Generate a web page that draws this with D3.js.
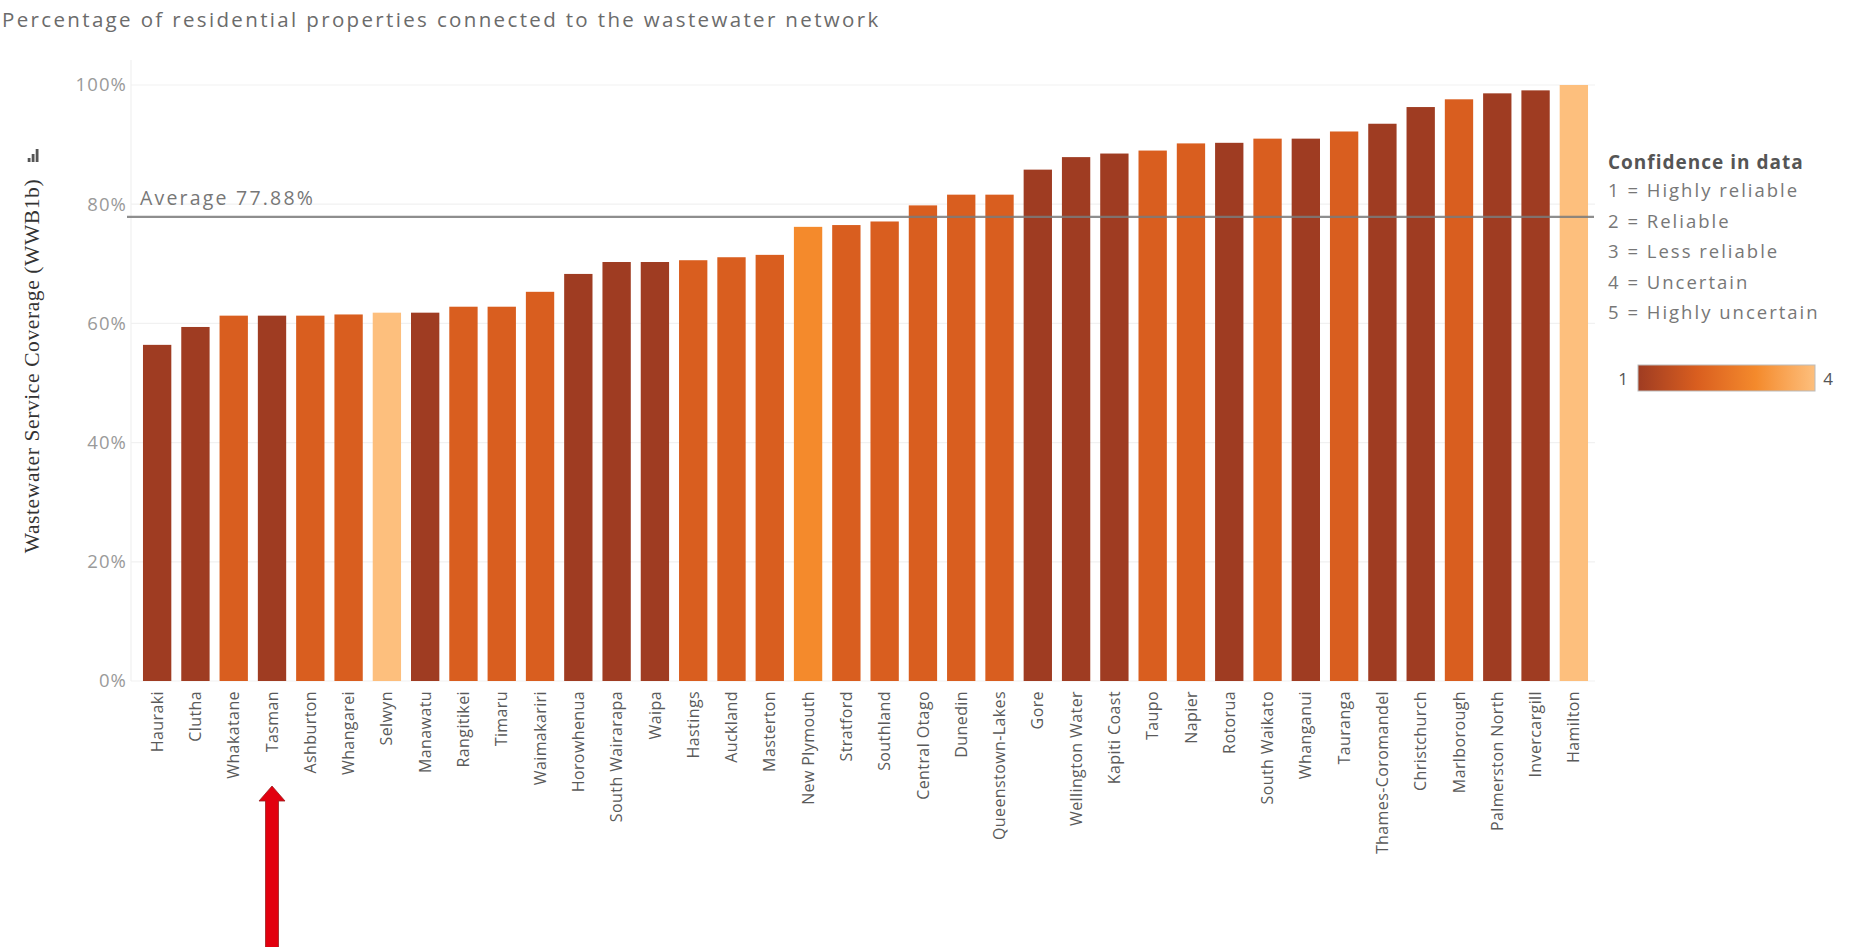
<!DOCTYPE html>
<html>
<head>
<meta charset="utf-8">
<script src="https://cdn.jsdelivr.net/npm/d3@7/dist/d3.min.js"></script>
<style>
  html, body { margin: 0; padding: 0; background: #fff; }
  svg { display: block; }
</style>
</head>
<body>
<svg id="chart" width="1851" height="947"></svg>
<script>
// ---------- DATA ----------
const categories = ["Hauraki","Clutha","Whakatane","Tasman","Ashburton","Whangarei","Selwyn","Manawatu","Rangitikei","Timaru","Waimakariri","Horowhenua","South Wairarapa","Waipa","Hastings","Auckland","Masterton","New Plymouth","Stratford","Southland","Central Otago","Dunedin","Queenstown-Lakes","Gore","Wellington Water","Kapiti Coast","Taupo","Napier","Rotorua","South Waikato","Whanganui","Tauranga","Thames-Coromandel","Christchurch","Marlborough","Palmerston North","Invercargill","Hamilton"];
const coverage = [56.4,59.4,61.3,61.3,61.3,61.5,61.8,61.8,62.8,62.8,65.3,68.3,70.3,70.3,70.6,71.1,71.5,76.2,76.5,77.1,79.8,81.6,81.6,85.8,87.9,88.5,89.0,90.2,90.3,91.0,91.0,92.2,93.5,96.3,97.6,98.6,99.1,100.0];
const confidence = [1,1,2,1,2,2,4,1,2,2,2,1,1,1,2,2,2,3,2,2,2,2,2,1,1,1,2,2,1,2,1,2,1,1,2,1,1,4];
const yTicks = [0,20,40,60,80,100];
const averageValue = 77.88;
const highlighted = "Tasman";
const titleText = "Percentage of residential properties connected to the wastewater network";
const yTitle = "Wastewater Service Coverage (WWB1b)";
const legendTitle = "Confidence in data";
const legendItems = ["1 = Highly reliable","2 = Reliable","3 = Less reliable","4 = Uncertain","5 = Highly uncertain"];
const legendScale = [1,4];

// ---------- SETUP ----------
const svg = d3.select("#chart");
const font = "'Open Sans', 'Noto Sans', sans-serif";

const x = d3.scaleBand().domain(categories).range([138, 1593]).paddingInner(0.26).paddingOuter(0.13);
const y = d3.scaleLinear().domain([0, 100]).range([681, 85]);
const color = d3.scaleLinear().domain([1, 2, 3, 4])
  .range(["#9f3c22", "#d95e1f", "#f48a2c", "#fdbf7d"]);

// Title
svg.append("text").attr("x", 2).attr("y", 27)
  .attr("font-family", font).attr("font-size", 20.5).attr("letter-spacing", 2.35)
  .attr("fill", "#6b6b6b").text(titleText);

// gridlines
svg.append("g").selectAll("line").data(yTicks).join("line")
  .attr("x1", 131).attr("x2", 1595)
  .attr("y1", d => y(d)).attr("y2", d => y(d))
  .attr("stroke", "#f1f1f1").attr("stroke-width", 1.2);

// axis line (faint)
svg.append("line").attr("x1", 131).attr("x2", 131).attr("y1", 60).attr("y2", 681)
  .attr("stroke", "#f0f0f0").attr("stroke-width", 1.2);

// Y axis
const yAxis = d3.axisLeft(y).tickValues(yTicks).tickFormat(d => d + "%").tickSize(0).tickPadding(0);
const gy = svg.append("g").attr("transform", "translate(127,0)").call(yAxis);
gy.select(".domain").remove();
gy.selectAll("text").attr("font-family", font).attr("font-size", 18.5)
  .attr("fill", "#9a9a9a").attr("letter-spacing", 1.1);

// Y title
svg.append("text")
  .attr("transform", "translate(39,366) rotate(-90)")
  .attr("text-anchor", "middle")
  .attr("font-family", "'Liberation Serif', 'DejaVu Serif', serif")
  .attr("font-size", 21.5).attr("fill", "#333").attr("letter-spacing", 0.6)
  .text(yTitle);
// small sort icon above y-title
const icon = svg.append("g").attr("transform", "translate(33,162)");
[[-4,4],[0,8],[4,13]].forEach(([dx,h]) => {
  icon.append("rect").attr("x", dx - 1.3).attr("y", -h).attr("width", 2.8).attr("height", h).attr("fill", "#555");
});

// Bars
svg.append("g").selectAll("rect").data(categories).join("rect")
  .attr("x", d => x(d))
  .attr("width", x.bandwidth())
  .attr("y", (d, i) => y(coverage[i]))
  .attr("height", (d, i) => y(0) - y(coverage[i]))
  .attr("fill", (d, i) => color(confidence[i]));

// X axis labels
const xAxis = d3.axisBottom(x).tickSize(0).tickPadding(0);
const gx = svg.append("g").attr("transform", `translate(0,${y(0)})`).call(xAxis);
gx.select(".domain").remove();
gx.selectAll("text")
  .attr("font-family", font).attr("font-size", 16).attr("fill", "#5a5a5a")
  .attr("letter-spacing", 0.4)
  .attr("text-anchor", "end")
  .attr("dy", "0.35em")
  .attr("transform", "translate(0,10) rotate(-90)")
  .attr("x", 0).attr("y", 0);

// Average line
svg.append("line")
  .attr("x1", 127).attr("x2", 1594)
  .attr("y1", y(averageValue)).attr("y2", y(averageValue))
  .attr("stroke", "#7a7a7a").attr("stroke-opacity", 0.85).attr("stroke-width", 2.2);
svg.append("text").attr("x", 140).attr("y", y(averageValue) - 12)
  .attr("font-family", font).attr("font-size", 19.5).attr("fill", "#777")
  .attr("letter-spacing", 2.2)
  .text("Average " + averageValue.toFixed(2) + "%");

// Legend
const lg = svg.append("g").attr("transform", "translate(1608,0)");
lg.append("text").attr("x", 0).attr("y", 169)
  .attr("font-family", font).attr("font-size", 19).attr("font-weight", "bold")
  .attr("fill", "#555").attr("letter-spacing", 1).text(legendTitle);
lg.selectAll("text.item").data(legendItems).join("text").attr("class", "item")
  .attr("x", 0).attr("y", (d, i) => 197 + i * 30.5)
  .attr("font-family", font).attr("font-size", 18.5).attr("fill", "#777")
  .attr("letter-spacing", 2)
  .text(d => d);

// gradient legend
const defs = svg.append("defs");
const grad = defs.append("linearGradient").attr("id", "confGrad");
const stops = d3.range(legendScale[0], legendScale[1] + 0.001, 0.5);
grad.selectAll("stop").data(stops).join("stop")
  .attr("offset", d => (d - legendScale[0]) / (legendScale[1] - legendScale[0]))
  .attr("stop-color", d => color(d));
const gl = d3.scaleLinear().domain(legendScale).range([1638, 1815]);
svg.append("rect").attr("x", gl(legendScale[0])).attr("y", 365)
  .attr("width", gl(legendScale[1]) - gl(legendScale[0])).attr("height", 26)
  .attr("fill", "url(#confGrad)").attr("stroke", "#bbb").attr("stroke-width", 1);
svg.append("text").attr("x", gl(legendScale[0]) - 15).attr("y", 385)
  .attr("text-anchor", "middle").attr("font-family", font).attr("font-size", 17)
  .attr("fill", "#555").text(legendScale[0]);
svg.append("text").attr("x", gl(legendScale[1]) + 13).attr("y", 385)
  .attr("text-anchor", "middle").attr("font-family", font).attr("font-size", 17)
  .attr("fill", "#555").text(legendScale[1]);

// Red arrow annotation pointing at highlighted category label
const ax = x(highlighted) + x.bandwidth() / 2;
const tipY = 786, headH = 15, headW = 13, shaftW = 6.5, bottom = 960;
svg.append("path")
  .attr("d", `M${ax},${tipY} L${ax + headW},${tipY + headH} L${ax + shaftW},${tipY + headH} L${ax + shaftW},${bottom} L${ax - shaftW},${bottom} L${ax - shaftW},${tipY + headH} L${ax - headW},${tipY + headH} Z`)
  .attr("fill", "#e2000f").attr("stroke", "#9a2020").attr("stroke-width", 0.8);
</script>
</body>
</html>
